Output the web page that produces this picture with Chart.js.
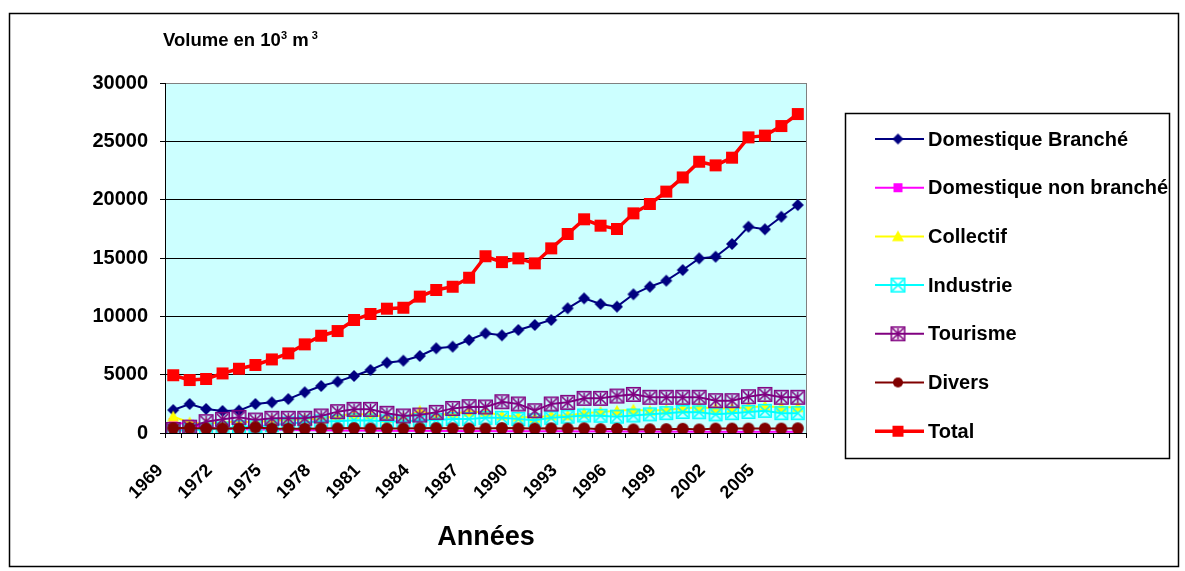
<!DOCTYPE html>
<html>
<head>
<meta charset="utf-8">
<title>Consommation d'eau par usage</title>
<script src="https://cdn.jsdelivr.net/npm/chart.js@4.4.1/dist/chart.umd.min.js"></script>
<style>
    html, body { margin: 0; padding: 0; background: #fff; }
    canvas { display: block; }
</style>
</head>
<body>
<canvas id="chart" width="1185" height="571"></canvas>
<script>
// Années (une catégorie par an)
const years = ['1969', '1970', '1971', '1972', '1973', '1974', '1975', '1976', '1977', '1978',
    '1979', '1980', '1981', '1982', '1983', '1984', '1985', '1986', '1987', '1988',
    '1989', '1990', '1991', '1992', '1993', '1994', '1995', '1996', '1997', '1998',
    '1999', '2000', '2001', '2002', '2003', '2004', '2005', '2006', '2007'];

// Volumes en milliers de m3
const domBranche = [1970, 2490, 2060, 1890, 1920, 2490, 2630, 2910, 3490, 4030,
    4400, 4890, 5400, 6030, 6200, 6600, 7260, 7400, 7970, 8540,
    8370, 8830, 9260, 9690, 10690, 11540, 11060, 10830, 11890, 12540,
    13060, 13970, 14970, 15110, 16200, 17680, 17460, 18540, 19540];
const domNonBranche = [900, 750, 450, 380, 330, 300, 290, 260, 240, 230,
    210, 200, 210, 190, 180, 190, 170, 180, 160, 170,
    150, 160, 140, 150, 140, 130, 140, 120, 130, 120,
    110, 120, 100, 110, 100, 110, 100, 100, 100];
const collectif = [1400, 900, 800, 900, 1000, 900, 1100, 1100, 1200, 1200,
    1500, 1600, 1600, 1300, 1300, 1900, 1500, 1700, 1800, 1800,
    1500, 1400, 1300, 1500, 1500, 1700, 1800, 1900, 2000, 1900,
    2000, 2100, 2200, 2100, 2100, 2200, 2300, 2200, 2200];
const industrie = [200, 260, 310, 390, 520, 580, 660, 820, 900, 1000,
    1000, 1100, 1080, 1000, 980, 1100, 1120, 1200, 1210, 1300,
    1300, 1200, 1100, 1300, 1400, 1500, 1480, 1400, 1500, 1600,
    1700, 1800, 1780, 1600, 1700, 1800, 1900, 1700, 1700];
const tourisme = [300, 500, 970, 1170, 1340, 1110, 1260, 1260, 1260, 1460,
    1830, 2030, 2030, 1690, 1460, 1540, 1770, 2110, 2260, 2230,
    2680, 2490, 1910, 2490, 2630, 2970, 2970, 3170, 3310, 3060,
    3060, 3060, 3060, 2770, 2770, 3110, 3310, 3060, 3060];
const divers = [420, 420, 380, 400, 380, 480, 380, 360, 360, 380,
    400, 420, 380, 380, 380, 400, 420, 400, 380, 380,
    420, 400, 380, 400, 380, 400, 330, 360, 300, 320,
    330, 360, 300, 380, 380, 380, 380, 380, 400];
const total = [4950, 4540, 4630, 5110, 5510, 5830, 6310, 6830, 7600, 8340,
    8740, 9690, 10200, 10660, 10740, 11690, 12260, 12540, 13310, 15150,
    14650, 14970, 14540, 15830, 17060, 18320, 17770, 17490, 18830, 19630,
    20690, 21910, 23250, 22940, 23600, 25340, 25490, 26310, 27340];

const yTicks = [0, 5000, 10000, 15000, 20000, 25000, 30000];

const FONT = '"Liberation Sans", Arial, Helvetica, sans-serif';

// petits marqueurs dessinés à la main (losange, carré, triangle, ...)
const makeMarker = (kind, color, size) => {
    const c = document.createElement('canvas');
    const dim = Math.ceil(size) + 4;
    c.width = dim;
    c.height = dim;
    const g = c.getContext('2d');
    const m = dim / 2;
    const r = size / 2;
    g.fillStyle = color;
    g.strokeStyle = color;
    g.lineWidth = 1.6;
    g.beginPath();
    switch (kind) {
        case 'diamond':
            g.moveTo(m, m - r);
            g.lineTo(m + r, m);
            g.lineTo(m, m + r);
            g.lineTo(m - r, m);
            g.closePath();
            g.fill();
            break;
        case 'square':
            g.fillRect(m - r, m - r, size, size);
            break;
        case 'triangle':
            g.moveTo(m, m - r);
            g.lineTo(m + r, m + r * 0.8);
            g.lineTo(m - r, m + r * 0.8);
            g.closePath();
            g.fill();
            break;
        case 'circle':
            g.arc(m, m, r, 0, Math.PI * 2);
            g.fill();
            break;
        case 'boxX':
        case 'boxStar':
            g.strokeRect(m - r + 0.8, m - r + 0.8, size - 1.6, size - 1.6);
            g.moveTo(m - r + 2, m - r + 2);
            g.lineTo(m + r - 2, m + r - 2);
            g.moveTo(m + r - 2, m - r + 2);
            g.lineTo(m - r + 2, m + r - 2);
            if (kind === 'boxStar') {
                g.moveTo(m, m - r + 2);
                g.lineTo(m, m + r - 2);
            }
            g.stroke();
            break;
    }
    return c;
};

const series = [
    { label: 'Domestique Branché', data: domBranche, color: '#000080', width: 2, marker: 'diamond', size: 12, legendSize: 11 },
    { label: 'Domestique non branché', data: domNonBranche, color: '#FF00FF', width: 2, marker: 'square', size: 9, legendSize: 9 },
    { label: 'Collectif', data: collectif, color: '#FFFF00', width: 2, marker: 'triangle', size: 12, legendSize: 12 },
    { label: 'Industrie', data: industrie, color: '#00FFFF', width: 2, marker: 'boxX', size: 14, legendSize: 15 },
    { label: 'Tourisme', data: tourisme, color: '#800080', width: 2, marker: 'boxStar', size: 15, legendSize: 15 },
    { label: 'Divers', data: divers, color: '#800000', width: 2, marker: 'circle', size: 12, legendSize: 10 },
    { label: 'Total', data: total, color: '#FF0000', width: 3.5, marker: 'square', size: 12, legendSize: 11 }
];

series.forEach(s => {
    s.point = makeMarker(s.marker, s.color, s.size);
    s.legendPoint = makeMarker(s.marker, s.color, s.legendSize);
});

const PLOT = { left: 165, top: 83, right: 806, bottom: 433 };

const decorPlugin = {
    id: 'decor',
    beforeDraw(chart) {
        const { ctx, chartArea: a } = chart;
        ctx.save();
        ctx.fillStyle = '#fff';
        ctx.fillRect(0, 0, chart.width, chart.height);
        ctx.fillStyle = '#CCFFFF';
        ctx.fillRect(a.left, a.top, a.right - a.left, a.bottom - a.top);
        ctx.restore();
    },
    afterDraw(chart) {
        const { ctx, chartArea: a } = chart;
        ctx.save();

        // bord droit de la zone de tracé
        ctx.strokeStyle = '#808080';
        ctx.lineWidth = 1;
        ctx.beginPath();
        ctx.moveTo(Math.round(a.right) + 0.5, a.top);
        ctx.lineTo(Math.round(a.right) + 0.5, a.bottom);
        ctx.stroke();

        // cadre général
        ctx.strokeStyle = '#000';
        ctx.lineWidth = 1.5;
        ctx.strokeRect(9.5, 13.5, 1169, 553);

        // titre de l'axe des ordonnées
        ctx.fillStyle = '#000';
        ctx.textBaseline = 'alphabetic';
        ctx.textAlign = 'left';
        let x = 163;
        const base = 46;
        const parts = [['Volume en 10', 18.5, 0], ['3', 11, -7], [' m', 18.5, 0], [' 3', 11, -7]];
        parts.forEach(([txt, size, dy]) => {
            ctx.font = `bold ${size}px ${FONT}`;
            ctx.fillText(txt, x, base + dy);
            x += ctx.measureText(txt).width;
        });

        // titre de l'axe des abscisses
        ctx.font = `bold 27px ${FONT}`;
        ctx.textAlign = 'center';
        ctx.textBaseline = 'middle';
        ctx.fillText('Années', 486, 538);

        // légende
        ctx.strokeStyle = '#000';
        ctx.lineWidth = 1.5;
        ctx.strokeRect(845.5, 113.5, 324, 345);
        ctx.textAlign = 'left';
        ctx.font = `bold 20px ${FONT}`;
        series.forEach((s, i) => {
            const y = 139 + i * 48.7;
            ctx.strokeStyle = s.color;
            ctx.lineWidth = s.width;
            ctx.beginPath();
            ctx.moveTo(875, y);
            ctx.lineTo(924, y);
            ctx.stroke();
            const p = s.legendPoint;
            ctx.drawImage(p, 898 - p.width / 2, y - p.height / 2);
            ctx.fillStyle = '#000';
            ctx.fillText(s.label, 928, y + 1);
        });

        ctx.restore();
    }
};

const chart = new Chart(document.getElementById('chart'), {
    type: 'line',
    data: {
        labels: years,
        datasets: series.map((s, i) => ({
            label: s.label,
            data: s.data,
            borderColor: s.color,
            backgroundColor: s.color,
            borderWidth: s.width,
            pointStyle: s.point,
            pointRadius: 6,
            tension: 0,
            fill: false,
            order: series.length - 1 - i
        }))
    },
    options: {
        responsive: false,
        animation: false,
        events: [],
        layout: {
            padding: { left: 0, top: PLOT.top, right: 1185 - PLOT.right, bottom: 0 }
        },
        plugins: {
            legend: { display: false },
            tooltip: { enabled: false }
        },
        scales: {
            x: {
                offset: true,
                grid: {
                    offset: true,
                    drawOnChartArea: false,
                    drawTicks: true,
                    tickLength: 5,
                    color: '#000',
                    tickColor: '#000'
                },
                border: { color: '#000', width: 1 },
                ticks: {
                    autoSkip: false,
                    minRotation: 45,
                    maxRotation: 45,
                    padding: 22,
                    labelOffset: -13,
                    color: '#000',
                    font: { family: FONT, size: 18, weight: 'bold' },
                    callback: (val, i) => (i % 3 === 0 ? years[i] : '')
                },
                afterFit: scale => { scale.height = 571 - PLOT.bottom; }
            },
            y: {
                min: 0,
                max: 30000,
                afterBuildTicks: scale => { scale.ticks = yTicks.map(v => ({ value: v })); },
                grid: {
                    color: c => (c.tick && c.tick.value === 30000 ? '#808080' : '#000'),
                    tickColor: '#000',
                    tickLength: 5,
                    lineWidth: 1
                },
                border: { color: '#000', width: 1 },
                ticks: {
                    padding: 12,
                    color: '#000',
                    font: { family: FONT, size: 20, weight: 'bold' },
                    callback: v => String(v)
                },
                afterFit: scale => { scale.width = PLOT.left; }
            }
        }
    },
    plugins: [decorPlugin]
});
</script>
</body>
</html>
